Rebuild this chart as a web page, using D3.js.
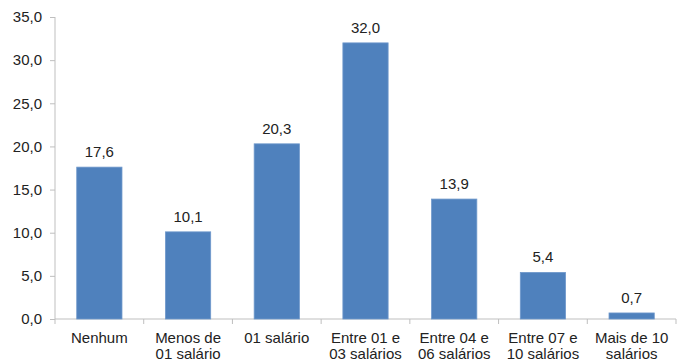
<!DOCTYPE html>
<html>
<head>
<meta charset="utf-8">
<script src="https://cdn.jsdelivr.net/npm/d3@7"></script>
<style>
  body { margin: 0; background: #fff; }
  svg text { font-family: "Liberation Sans", Arial, sans-serif; fill: #222; }
</style>
</head>
<body>
<svg id="chart" width="679" height="361"></svg>
<script>
// Faixas de renda e percentual correspondente
const categories = [
  ["Nenhum"],
  ["Menos de", "01 salário"],
  ["01 salário"],
  ["Entre 01 e", "03 salários"],
  ["Entre 04 e", "06 salários"],
  ["Entre 07 e", "10 salários"],
  ["Mais de 10", "salários"]
];
const values = [17.6, 10.1, 20.3, 32.0, 13.9, 5.4, 0.7];
const yTicks = [0, 5, 10, 15, 20, 25, 30, 35];

const margin = { left: 55, right: 3, top: 17, bottom: 42 };
const width = 679, height = 361;
const svg = d3.select("#chart");
const fmt = v => v.toFixed(1).replace(".", ",");

const x = d3.scaleBand()
  .domain(d3.range(categories.length))
  .range([margin.left, width - margin.right])
  .paddingInner(0.49)
  .paddingOuter(0.245);

const y = d3.scaleLinear()
  .domain([0, 35])
  .range([height - margin.bottom, margin.top]);

const axisColor = "#bfbfbf";

// Eixo Y
const yAxis = svg.append("g")
  .attr("transform", `translate(${margin.left},0)`)
  .call(d3.axisLeft(y).tickValues(yTicks).tickFormat(fmt).tickSize(5).tickPadding(8));
yAxis.select(".domain").attr("stroke", axisColor).attr("d", `M0,${y(0)}V${y(35)}`);
yAxis.selectAll(".tick line").attr("stroke", axisColor);
yAxis.selectAll(".tick text").attr("font-size", 15).attr("fill", "#222");

// Eixo X com marcas entre as categorias
const plotRight = width - margin.right;
const xg = svg.append("g");
xg.append("line")
  .attr("x1", margin.left).attr("x2", plotRight)
  .attr("y1", y(0)).attr("y2", y(0))
  .attr("stroke", axisColor);
const bounds = d3.range(categories.length + 1).map(i => margin.left + (plotRight - margin.left) * i / categories.length);
xg.selectAll("line.tk").data(bounds).join("line")
  .attr("class", "tk")
  .attr("x1", d => d).attr("x2", d => d)
  .attr("y1", y(0)).attr("y2", y(0) + 5)
  .attr("stroke", axisColor);

// Barras
svg.append("g").selectAll("rect").data(values).join("rect")
  .attr("x", (d, i) => x(i))
  .attr("y", d => y(d))
  .attr("width", x.bandwidth())
  .attr("height", d => y(0) - y(d))
  .attr("fill", "#4f81bd")
  .attr("stroke", "#6f98cb")
  .attr("stroke-width", 0.8);

// Rótulos de valor
svg.append("g").selectAll("text").data(values).join("text")
  .attr("x", (d, i) => x(i) + x.bandwidth() / 2)
  .attr("y", d => y(d) - 10)
  .attr("text-anchor", "middle")
  .attr("font-size", 15)
  .text(fmt);

// Rótulos das categorias
const lab = svg.append("g").selectAll("text").data(categories).join("text")
  .attr("x", (d, i) => x(i) + x.bandwidth() / 2)
  .attr("y", y(0) + 24)
  .attr("text-anchor", "middle")
  .attr("font-size", 15);
lab.selectAll("tspan").data(d => d).join("tspan")
  .attr("x", function() { return d3.select(this.parentNode).attr("x"); })
  .attr("dy", (d, i) => i === 0 ? 0 : 15.5)
  .text(d => d);
</script>
</body>
</html>
